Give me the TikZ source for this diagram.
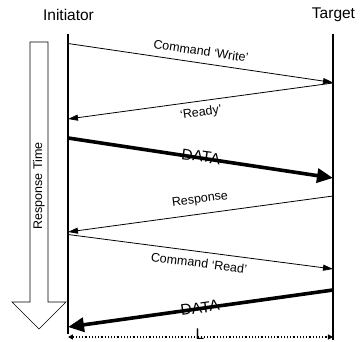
\documentclass[tikz,border=0pt]{standalone}
\usepackage{fontspec}
\setmainfont{Liberation Sans}
\usetikzlibrary{arrows.meta}
\tikzset{
  life/.style={line width=1.3pt},
  msg/.style={line width=0.8pt,-{Triangle[length=10pt,width=6pt]}},
  datamsg/.style={line width=3.6pt,-{Triangle[length=16pt,width=14pt]}},
  lbl/.style={font=\fontsize{12.5}{14}\selectfont,inner sep=0pt},
  dlbl/.style={font=\fontsize{15.5}{18}\selectfont,inner sep=0pt},
  head/.style={font=\fontsize{15.5}{18}\selectfont,inner sep=0pt},
}
\begin{document}
\begin{tikzpicture}[x=1pt,y=-1pt]
\useasboundingbox (0,0) rectangle (360,342);
% headers
\node[head] (init) at (68.5,15) {Initiator};
\node[head] (targ) at (333.5,15) {Target};
% lifelines
\coordinate (lt) at (68,34); \coordinate (lb) at (68,334);
\coordinate (rt) at (333,34); \coordinate (rb) at (333,340);
\draw[life] (lt) -- (lb);
\draw[life] (rt) -- (rb);
% endpoints
\coordinate (w1) at (68,43.5); \coordinate (w2) at (333,82.5);
\coordinate (r1) at (333,83); \coordinate (r2) at (68,119);
\coordinate (d1) at (68,138); \coordinate (d2) at (333,178);
\coordinate (s1) at (333,196); \coordinate (s2) at (68,232);
\coordinate (c1) at (68,234.5); \coordinate (c2) at (333,269);
\coordinate (e1) at (333,290); \coordinate (e2) at (68,327);
\draw[msg] (w1) -- (w2);
\draw[msg] (r1) -- (r2);
\draw[datamsg] (d1) -- (d2);
\draw[msg] (s1) -- (s2);
\draw[msg] (c1) -- (c2);
\draw[datamsg] (e1) -- (e2);
% labels
\node[lbl,rotate=-8.4] (lw) at (201,51) {Command ‘Write’};
\node[lbl,rotate=7.8] (lr) at (201,113) {‘Ready’};
\node[dlbl,rotate=-8.1] (ld1) at (201,156.5) {DATA};
\node[lbl,rotate=7.6] (ls) at (200,200) {Response};
\node[lbl,rotate=-7.4] (lc) at (199,263) {Command ‘Read’};
\node[dlbl,rotate=8.0] (ld2) at (200,308) {DATA};
% L dimension
\coordinate (la) at (68,337); \coordinate (lz) at (333,337);
\draw[line width=1.2pt,dotted,{Triangle[length=5pt,width=5pt]}-{Triangle[length=5pt,width=5pt]}] (la) -- (lz);
\node[dlbl] (ll) at (200,334) {L};
% Response Time arrow
\draw[line width=0.6pt] (30,42) -- (48,42) -- (48,302) -- (66,302) -- (39,329) -- (12,302) -- (30,302) -- cycle;
\node[lbl,rotate=90] (rtime) at (39,186) {Response Time};
\end{tikzpicture}
\end{document}
